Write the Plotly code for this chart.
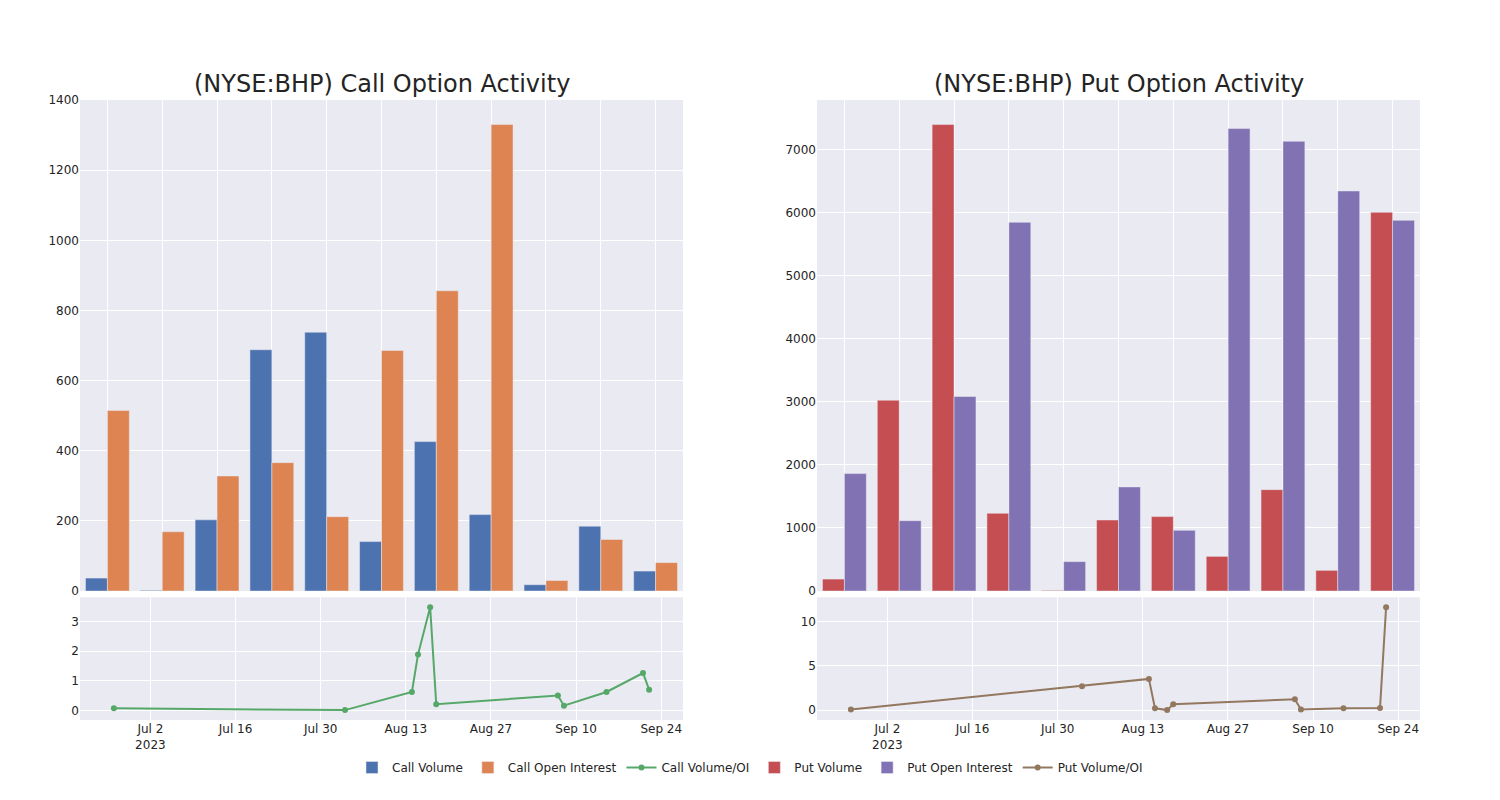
import plotly.graph_objects as go
from plotly.subplots import make_subplots

# Expiration dates (bar categories and line x values)
dates = ["2023-06-26", "2023-08-03", "2023-08-14", "2023-08-15", "2023-08-17",
         "2023-08-18", "2023-09-07", "2023-09-08", "2023-09-15", "2023-09-21", "2023-09-22"]

call_volume = [37, 2, 203, 688, 738, 141, 426, 218, 18, 185, 57]
call_oi = [515, 169, 328, 366, 212, 686, 856, 1330, 30, 147, 81]
call_ratio = [0.07, 0.01, 0.62, 1.88, 3.48, 0.21, 0.50, 0.16, 0.62, 1.26, 0.70]

put_volume = [190, 3026, 7397, 1233, 10, 1127, 1180, 550, 1608, 328, 6005]
put_oi = [1862, 1116, 3085, 5847, 466, 1651, 963, 7333, 7132, 6344, 5878]
put_ratio = [0.10, 2.71, 3.53, 0.22, 0.02, 0.68, 1.23, 0.08, 0.23, 0.25, 11.6]

titles = ["(NYSE:BHP) Call Option Activity", "(NYSE:BHP) Put Option Activity"]

fig = make_subplots(rows=2, cols=2, row_heights=[0.8, 0.2], vertical_spacing=0.01,
                    horizontal_spacing=0.1, subplot_titles=titles)

fig.add_trace(go.Bar(x=dates, y=call_volume, name="Call Volume", marker_color="#4C72B0"), row=1, col=1)
fig.add_trace(go.Bar(x=dates, y=call_oi, name="Call Open Interest", marker_color="#DD8452"), row=1, col=1)
fig.add_trace(go.Scatter(x=dates, y=call_ratio, name="Call Volume/OI", mode="lines+markers",
                         line=dict(color="#55A868")), row=2, col=1)
fig.add_trace(go.Bar(x=dates, y=put_volume, name="Put Volume", marker_color="#C44E52"), row=1, col=2)
fig.add_trace(go.Bar(x=dates, y=put_oi, name="Put Open Interest", marker_color="#8172B3"), row=1, col=2)
fig.add_trace(go.Scatter(x=dates, y=put_ratio, name="Put Volume/OI", mode="lines+markers",
                         line=dict(color="#937860")), row=2, col=2)

fig.update_xaxes(type="category", showticklabels=False, row=1, col=1)
fig.update_xaxes(type="category", showticklabels=False, row=1, col=2)
fig.update_xaxes(type="date", dtick=14 * 24 * 3600 * 1000, tick0="2023-07-02", row=2, col=1)
fig.update_xaxes(type="date", dtick=14 * 24 * 3600 * 1000, tick0="2023-07-02", row=2, col=2)
fig.update_yaxes(range=[0, 1400], row=1, col=1)

fig.update_annotations(font_size=24)
fig.update_layout(
    template="seaborn",
    font=dict(family="DejaVu Sans"),
    width=1500, height=800,
    barmode="group",
    legend=dict(orientation="h", x=0.5, xanchor="center", y=-0.1, yanchor="bottom"),
)

fig.write_html("out.html")
